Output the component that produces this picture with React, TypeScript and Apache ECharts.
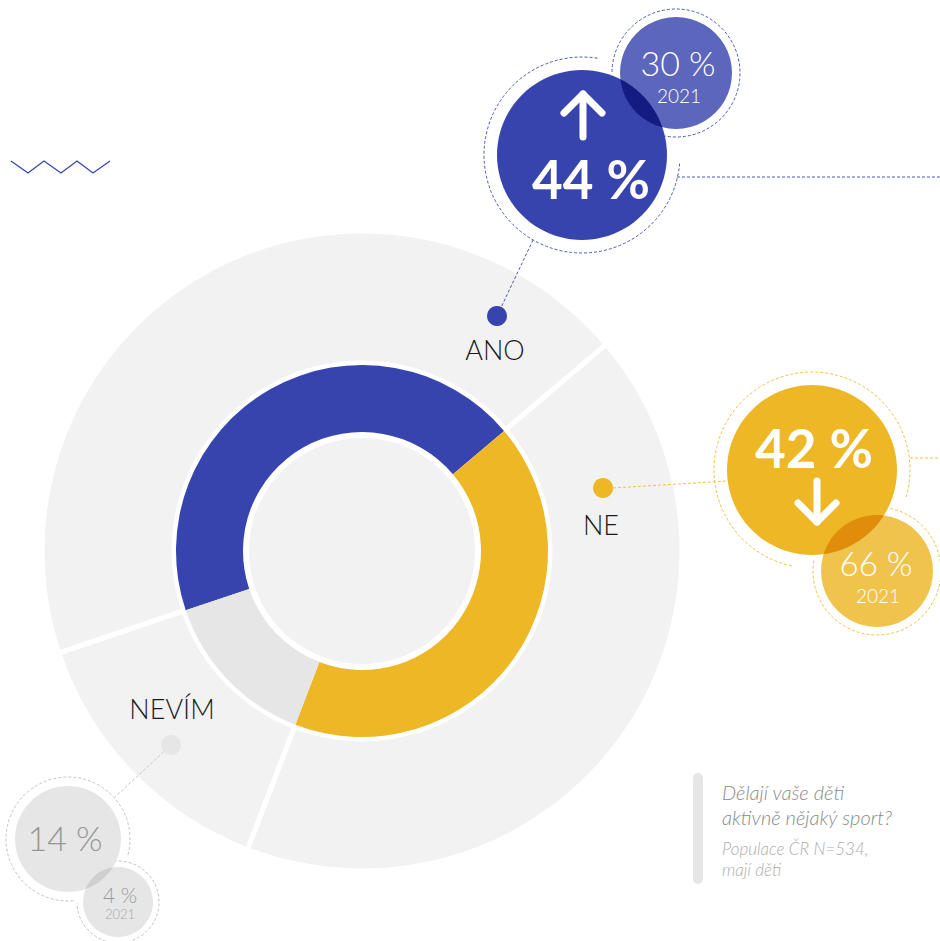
import React, { useEffect, useRef } from "react";
import * as echarts from "echarts";

// ---- data ----
const categories = ["ANO", "NE", "NEVÍM"];
const values2023 = [44, 42, 14];
const values2021 = [30, 66, 4];
const yearLabel = "2021";
const questionLines = ["Dělají vaše děti", "aktivně nějaký sport?"];
const noteLines = ["Populace ČR N=534,", "mají děti"];

// ---- styling ----
const MAIN_COLORS = ["#3744ae", "#edb726", "#e6e6e6"];
const SMALL_COLORS = ["#5c66bd", "#f0c44c", "#e6e6e6"];
const RING_COLORS = ["#4d57b9", "#efc14a", "#c4c4c4"];
const FONT = "Lato";

// layout of the callout bubbles (positions only)
const LAYOUT = [
  {
    big: { cx: 582, cy: 155, r: 85 },
    bigRing: { r: 98, gapFrom: 10, gapTo: 95 },
    small: { cx: 676, cy: 73, r: 56 },
    smallRing: { r: 64, gapFrom: 190, gapTo: 271 },
    dot: [497, 316],
    label: [495, 349],
    connector: [[533, 240], [497, 316]],
    tail: [[677, 177], [940, 177]],
    bigText: { x: 591, y: 178, size: 53, weight: 700, color: "#fff" },
    smallText: { x: 678, y: 62, size: 34, weight: 300, color: "#fff" },
    yearText: { x: 679, y: 95, size: 19, weight: 300, color: "#fff" },
    arrow: "up",
    arrowX: 583,
    arrowY: [94, 137],
  },
  {
    big: { cx: 812, cy: 470, r: 85 },
    bigRing: { r: 98, gapFrom: 106, gapTo: 192 },
    small: { cx: 877, cy: 571, r: 56 },
    smallRing: { r: 64, gapFrom: 280, gapTo: 12 },
    dot: [603, 488],
    label: [601, 524],
    connector: [[613, 488], [727, 481]],
    tail: [[910, 458], [940, 458]],
    bigText: { x: 814, y: 447, size: 53, weight: 700, color: "#fff" },
    smallText: { x: 876, y: 563, size: 33, weight: 300, color: "#fff" },
    yearText: { x: 878, y: 595, size: 19, weight: 300, color: "#fff" },
    arrow: "down",
    arrowX: 817,
    arrowY: [481, 522],
  },
  {
    big: { cx: 68, cy: 839, r: 53 },
    bigRing: { r: 62, gapFrom: 106, gapTo: 175 },
    small: { cx: 118, cy: 902, r: 35 },
    smallRing: { r: 41, gapFrom: 268, gapTo: 319 },
    dot: [171, 745],
    label: [172, 708],
    connector: [[171, 745], [115, 797]],
    tail: null,
    bigText: { x: 65, y: 837, size: 34, weight: 300, color: "#969696" },
    smallText: { x: 120, y: 894, size: 21, weight: 300, color: "#9a9a9a" },
    yearText: { x: 120, y: 914, size: 13, weight: 300, color: "#a8a8a8" },
    arrow: null,
    arrowX: 0,
    arrowY: [0, 0],
  },
];

function hexToRgb(h: string) {
  const v = h.replace("#", "");
  return [0, 2, 4].map((i) => parseInt(v.slice(i, i + 2), 16));
}
function multiply(a: string, b: string) {
  const x = hexToRgb(a);
  const y = hexToRgb(b);
  const m = x.map((c, i) => Math.round((c * y[i]) / 255));
  return "rgb(" + m.join(",") + ")";
}

function lensPoints(c1x: number, c1y: number, r1: number, c2x: number, c2y: number, r2: number, n = 48) {
  const dx = c2x - c1x;
  const dy = c2y - c1y;
  const d = Math.hypot(dx, dy);
  const a = (r1 * r1 - r2 * r2 + d * d) / (2 * d);
  const b = d - a;
  const t0 = Math.atan2(dy, dx);
  const a1 = Math.acos(Math.max(-1, Math.min(1, a / r1)));
  const a2 = Math.acos(Math.max(-1, Math.min(1, b / r2)));
  const pts: number[][] = [];
  for (let i = 0; i <= n; i++) {
    const t = t0 - a1 + (2 * a1 * i) / n;
    pts.push([c1x + r1 * Math.cos(t), c1y + r1 * Math.sin(t)]);
  }
  const p0 = t0 + Math.PI;
  for (let i = 0; i <= n; i++) {
    const t = p0 - a2 + (2 * a2 * i) / n;
    pts.push([c2x + r2 * Math.cos(t), c2y + r2 * Math.sin(t)]);
  }
  return pts;
}

const rad = (deg: number) => (deg * Math.PI) / 180;

function dashedArc(cx: number, cy: number, r: number, gapFrom: number, gapTo: number, color: string) {
  let end = gapFrom;
  while (end <= gapTo) end += 360;
  return {
    type: "arc",
    z: 10,
    silent: true,
    shape: { cx, cy, r, startAngle: rad(gapTo - 90), endAngle: rad(end - 90), clockwise: true },
    style: { stroke: color, lineWidth: 1, lineDash: [3, 2], fill: null },
  };
}

function textEl(text: string, x: number, y: number, size: number, weight: number, color: string, extra: any = {}) {
  return {
    type: "text",
    z: 14,
    silent: true,
    x,
    y,
    style: {
      text,
      fill: color,
      fontSize: size,
      fontWeight: weight,
      fontFamily: FONT,
      align: "center",
      verticalAlign: "middle",
      ...extra,
    },
  };
}

function buildGraphics() {
  const els: any[] = [];
  // zigzag decoration
  els.push({
    type: "polyline",
    z: 10,
    silent: true,
    shape: { points: [[11, 161], [28, 173], [44, 161], [61, 173], [77, 161], [93, 173], [110, 161]] },
    style: { stroke: "#3744ae", lineWidth: 1.3, fill: null },
  });

  LAYOUT.forEach((L, i) => {
    const ringColor = RING_COLORS[i];
    els.push(dashedArc(L.big.cx, L.big.cy, L.bigRing.r, L.bigRing.gapFrom, L.bigRing.gapTo, ringColor));
    els.push(dashedArc(L.small.cx, L.small.cy, L.smallRing.r, L.smallRing.gapFrom, L.smallRing.gapTo, ringColor));
    // connector
    els.push({
      type: "line",
      z: 10,
      silent: true,
      shape: { x1: L.connector[0][0], y1: L.connector[0][1], x2: L.connector[1][0], y2: L.connector[1][1] },
      style: { stroke: ringColor, lineWidth: 1, lineDash: [3, 2] },
    });
    if (L.tail) {
      els.push({
        type: "line",
        z: 10,
        silent: true,
        shape: { x1: L.tail[0][0], y1: L.tail[0][1], x2: L.tail[1][0], y2: L.tail[1][1] },
        style: { stroke: ringColor, lineWidth: 1, lineDash: [3, 2] },
      });
    }
    // dot on the pie
    els.push({
      type: "circle",
      z: 11,
      silent: true,
      shape: { cx: L.dot[0], cy: L.dot[1], r: 10 },
      style: { fill: MAIN_COLORS[i] },
    });
    // category label
    els.push(textEl(categories[i], L.label[0], L.label[1], 27, 300, "#1a1a1a"));
    // bubbles
    els.push({
      type: "circle",
      z: 11,
      silent: true,
      shape: { cx: L.big.cx, cy: L.big.cy, r: L.big.r },
      style: { fill: MAIN_COLORS[i] },
    });
    els.push({
      type: "circle",
      z: 11,
      silent: true,
      shape: { cx: L.small.cx, cy: L.small.cy, r: L.small.r },
      style: { fill: SMALL_COLORS[i] },
    });
    els.push({
      type: "polygon",
      z: 12,
      silent: true,
      shape: { points: lensPoints(L.big.cx, L.big.cy, L.big.r, L.small.cx, L.small.cy, L.small.r) },
      style: { fill: multiply(MAIN_COLORS[i], SMALL_COLORS[i]) },
    });
    // texts
    const bt = L.bigText;
    els.push(textEl(values2023[i] + " %", bt.x, bt.y, bt.size, bt.weight, bt.color));
    const st = L.smallText;
    els.push(textEl(values2021[i] + " %", st.x, st.y, st.size, st.weight, st.color));
    const yt = L.yearText;
    els.push(textEl(yearLabel, yt.x, yt.y, yt.size, yt.weight, yt.color));
    // arrows
    if (L.arrow) {
      const [y0, y1] = L.arrowY;
      const x = L.arrowX;
      const tipY = L.arrow === "up" ? y0 : y1;
      const headY = L.arrow === "up" ? y0 + 19 : y1 - 19;
      els.push({
        type: "polyline",
        z: 13,
        silent: true,
        shape: { points: [[x, y0], [x, y1]] },
        style: { stroke: "#fff", lineWidth: 7, lineCap: "round", fill: null },
      });
      els.push({
        type: "polyline",
        z: 13,
        silent: true,
        shape: { points: [[x - 19, headY], [x, tipY], [x + 19, headY]] },
        style: { stroke: "#fff", lineWidth: 7, lineCap: "round", lineJoin: "round", fill: null },
      });
    }
  });

  // caption
  els.push({
    type: "rect",
    z: 10,
    silent: true,
    shape: { x: 693, y: 773, width: 10, height: 111, r: 5 },
    style: { fill: "#e6e6e6" },
  });
  questionLines.forEach((t, k) => {
    els.push(
      textEl(t, 722, 792 + k * 24.5, 20, 300, "#8a8a8a", { align: "left", fontStyle: "italic" })
    );
  });
  noteLines.forEach((t, k) => {
    els.push(
      textEl(t, 722, 848 + k * 21, 17, 300, "#adadad", { align: "left", fontStyle: "italic" })
    );
  });
  return els;
}

export default function App() {
  const ref = useRef<HTMLDivElement>(null);
  useEffect(() => {
    if (!ref.current) return;
    const chart = echarts.init(ref.current, undefined, { renderer: "svg" });
    const pieData = categories.map((c, i) => ({ name: c, value: values2023[i] }));
    chart.setOption({
      animation: false,
      backgroundColor: "#ffffff",
      series: [
        {
          type: "pie",
          z: 1,
          silent: true,
          center: [362, 551],
          radius: [188, 320],
          startAngle: 198.6,
          label: { show: false },
          labelLine: { show: false },
          emphasis: { disabled: true },
          itemStyle: { color: "#f2f2f2", borderColor: "#ffffff", borderWidth: 5 },
          data: pieData,
        },
        {
          type: "pie",
          z: 2,
          silent: true,
          center: [362, 551],
          radius: [119, 186],
          startAngle: 198.6,
          label: { show: false },
          labelLine: { show: false },
          emphasis: { disabled: true },
          data: pieData.map((d, i) => ({ ...d, itemStyle: { color: MAIN_COLORS[i], borderWidth: 0 } })),
        },
        {
          type: "pie",
          z: 3,
          silent: true,
          center: [362, 551],
          radius: [0, 113],
          label: { show: false },
          labelLine: { show: false },
          emphasis: { disabled: true },
          data: [{ name: "center", value: 1, itemStyle: { color: "#f2f2f2" } }],
        },
      ],
      graphic: { elements: buildGraphics() },
    });
    return () => chart.dispose();
  }, []);
  return (
    <div
      ref={ref}
      style={{ position: "fixed", left: 0, top: 0, width: 940, height: 941 }}
    />
  );
}
